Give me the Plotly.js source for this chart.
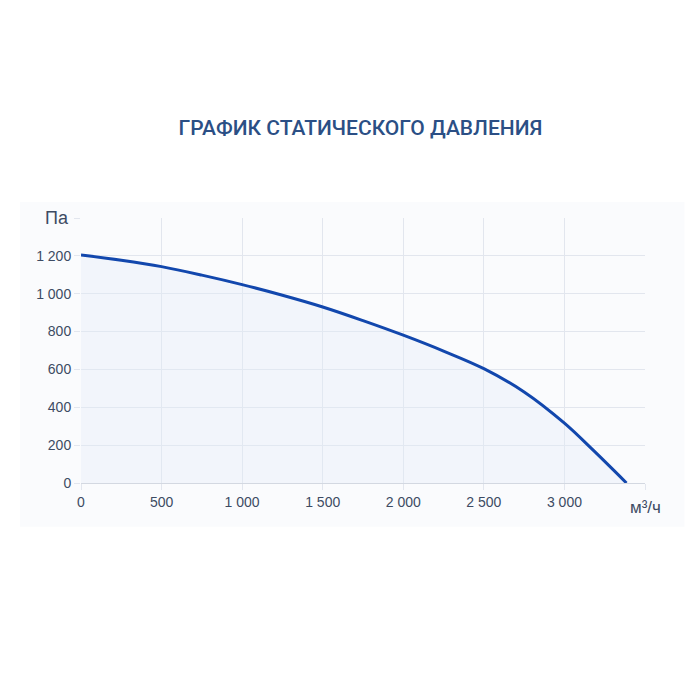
<!DOCTYPE html>
<html>
<head>
<meta charset="utf-8">
<script src="https://cdn.plot.ly/plotly-3.0.1.min.js"></script>
<style>
  body { margin: 0; background: #ffffff; }
  #chart-area { width: 700px; height: 700px; }
</style>
</head>
<body>
<div id="chart-area"></div>
<script>
// airflow, m3/h
const flow = [0, 250, 500, 750, 1000, 1250, 1500, 1750, 2000, 2250, 2500, 2750, 3000, 3180, 3385];
// static pressure, Pa
const pressure = [1205, 1177, 1143, 1098, 1048, 992, 930, 858, 781, 697, 604, 481, 316, 172, 0];

const xTicks = [0, 500, 1000, 1500, 2000, 2500, 3000, 3500];
const xTickText = ["0", "500", "1 000", "1 500", "2 000", "2 500", "3 000", ""];
const yTicks = [0, 200, 400, 600, 800, 1000, 1200, 1400];
const yTickText = ["0", "200", "400", "600", "800", "1 000", "1 200", ""];

const titleText = "ГРАФИК СТАТИЧЕСКОГО ДАВЛЕНИЯ";
const yUnit = "Па";
const xUnit = "м³/ч";

const gridColor = "#e2e6ee";
const labelFamily = "'Liberation Sans', Arial, sans-serif";
const tickFont = { family: labelFamily, size: 14, color: "#3d4b63" };

const data = [
  {
    x: flow,
    y: pressure,
    type: "scatter",
    mode: "lines",
    line: { color: "#1247ad", width: 3, shape: "spline", smoothing: 1 },
    fill: "tozeroy",
    fillcolor: "rgba(225, 234, 246, 0.35)",
    hoverinfo: "none",
    showlegend: false,
  },
];

const layout = {
  width: 700,
  height: 700,
  margin: { l: 81, r: 55, t: 218, b: 217 },
  paper_bgcolor: "#ffffff",
  plot_bgcolor: "rgba(0,0,0,0)",
  title: {
    text: titleText,
    font: { family: "Roboto, Arial, sans-serif", size: 21, color: "#2b4f85", weight: 500 },
    x: 0.515,
    xanchor: "center",
    y: 0.817,
    yanchor: "middle",
  },
  xaxis: {
    range: [0, 3500],
    tickvals: xTicks,
    ticktext: xTickText,
    showgrid: true,
    gridcolor: gridColor,
    zeroline: false,
    showline: false,
    ticks: "outside",
    ticklen: 6,
    tickcolor: gridColor,
    tickfont: tickFont,
    fixedrange: true,
  },
  yaxis: {
    range: [0, 1400],
    tickvals: yTicks,
    ticktext: yTickText,
    showgrid: true,
    gridcolor: gridColor,
    zeroline: true,
    zerolinecolor: "#d3d8e1",
    zerolinewidth: 1,
    showline: false,
    ticks: "outside",
    ticklen: 6,
    tickcolor: gridColor,
    tickfont: tickFont,
    fixedrange: true,
  },
  shapes: [
    {
      // faint panel behind the chart
      type: "rect",
      xref: "paper",
      yref: "paper",
      x0: -0.108,
      x1: 1.07,
      y0: -0.165,
      y1: 1.06,
      fillcolor: "#fafbfd",
      line: { width: 0 },
      layer: "below",
    },
  ],
  annotations: [
    {
      text: yUnit,
      xref: "paper",
      yref: "y",
      x: 0,
      y: 1400,
      xanchor: "right",
      yanchor: "middle",
      xshift: -10,
      showarrow: false,
      font: { family: labelFamily, size: 18, color: "#3d4b63" },
    },
    {
      text: xUnit,
      xref: "x",
      yref: "paper",
      x: 3500,
      y: 0,
      xanchor: "center",
      yanchor: "top",
      xshift: 0,
      yshift: -13,
      showarrow: false,
      font: { family: labelFamily, size: 17, color: "#3d4b63" },
    },
  ],
};

const config = { staticPlot: true, displayModeBar: false };

Plotly.newPlot("chart-area", data, layout, config);
</script>
</body>
</html>
